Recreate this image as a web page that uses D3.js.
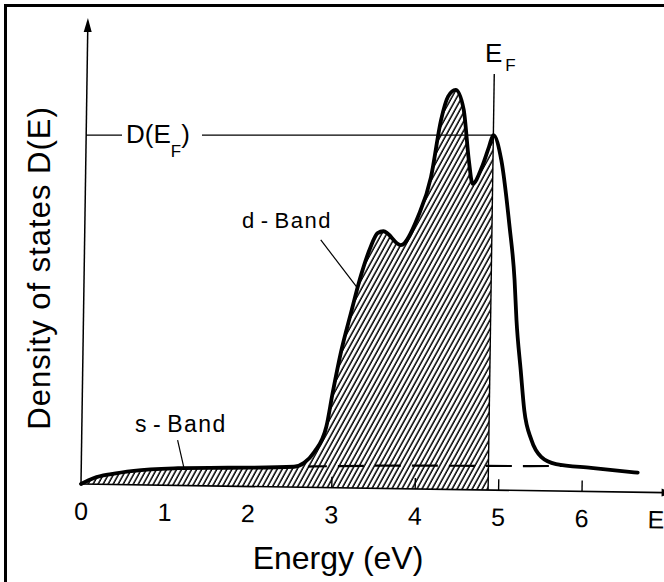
<!DOCTYPE html>
<html><head><meta charset="utf-8">
<script src="https://cdn.jsdelivr.net/npm/d3@7"></script>
<style>
body{margin:0;background:#fff}
svg{display:block;background:#fff}
text{font-family:"Liberation Sans",Arial,sans-serif;fill:#000}
</style></head>
<body><svg id="c" width="664" height="582"></svg>
<script>
// ---- data ----
const energyTotal = [0,0.155,0.36,0.63,1.16,1.76,2.55,2.67,2.79,2.93,3.0,3.09,3.205,3.32,3.43,3.51,3.58,3.79,3.99,4.14,4.25,4.33,4.42,4.52,4.59,4.64,4.75,4.83,4.88,4.98,5.09,5.16,5.19,5.25,5.30,5.39,5.51,5.69,6.11,6.67];
const dosTotal    = [0,0.155,0.26,0.35,0.43,0.46,0.51,0.61,0.885,1.52,2.37,3.37,4.375,5.33,6.04,6.38,6.43,6.09,6.8,7.8,9.23,9.82,9.99,9.5,8.25,7.65,8.08,8.58,8.875,8.25,6.6,5.26,4.26,3.0,2.0,1.27,0.85,0.675,0.59,0.49];
const energyS = [0,0.155,0.36,0.63,1.16,1.76,2.55,3.5,4.5,5.38,5.8];
const dosS    = [0,0.155,0.26,0.35,0.43,0.46,0.51,0.565,0.595,0.615,0.63];
const fermiEnergy = 4.88;
const fermiDos = 8.875;
const xTickValues = [0,1,2,3,4,5,6,6.89];
const xTickLabels = ["0","1","2","3","4","5","6","E"];
const xTickMarks = [3,4,5,6];
const dBandLeader = {e:[2.83,3.28], d:[6.19,5.0]};
const sBandLeader = {e:[1.15,1.23], d:[1.135,0.45]};

// ---- layout ----
const origin = {x:82, y:484}, tilt = 0.85;
const x = d3.scaleLinear().domain([0,7]).range([-1,583]);
const y = d3.scaleLinear().domain([0,12]).range([0,-480]);
const th = tilt*Math.PI/180;
function toScreen(e,d){const u=x(e), w=y(d);
  return [origin.x + u*Math.cos(th) - w*Math.sin(th), origin.y + u*Math.sin(th) + w*Math.cos(th)];}

const svg = d3.select("#c");
svg.append("rect").attr("width",664).attr("height",582).attr("fill","#fff");
const defs = svg.append("defs");
const pat = defs.append("pattern").attr("id","hatch").attr("patternUnits","userSpaceOnUse")
  .attr("width",4.4).attr("height",10).attr("patternTransform","rotate(28)");
pat.append("line").attr("x1",1).attr("x2",1).attr("y1",-1).attr("y2",11).attr("stroke","#000").attr("stroke-width",1.5);
defs.append("clipPath").attr("id","clipF").append("rect")
  .attr("x",x(0)).attr("y",-520).attr("width",x(fermiEnergy)-x(0)).attr("height",520);
defs.append("clipPath").attr("id","clipS").append("rect")
  .attr("x",x(2.72)).attr("y",-520).attr("width",x(5.8)-x(2.72)).attr("height",520);

// frame
svg.append("path").attr("d","M5.5,582V5.5H664").attr("fill","none").attr("stroke","#000").attr("stroke-width",3);

const g = svg.append("g").attr("transform",`translate(${origin.x},${origin.y}) rotate(${tilt})`);
const total = energyTotal.map((e,i)=>[e,dosTotal[i]]);
const sband = energyS.map((e,i)=>[e,dosS[i]]);

// hatched occupied area
g.append("path").datum(total).attr("clip-path","url(#clipF)")
  .attr("d",d3.area().x(d=>x(d[0])).y0(y(0)).y1(d=>y(d[1])).curve(d3.curveMonotoneX))
  .attr("fill","url(#hatch)");

// Fermi level line
g.append("line").attr("x1",x(fermiEnergy)).attr("x2",x(fermiEnergy)).attr("y1",y(0)).attr("y2",y(10.4))
  .attr("stroke","#000").attr("stroke-width",1.4);

// s-band dashed continuation
g.append("path").datum(sband).attr("clip-path","url(#clipS)")
  .attr("d",d3.line().x(d=>x(d[0])).y(d=>y(d[1])).curve(d3.curveMonotoneX))
  .attr("fill","none").attr("stroke","#000").attr("stroke-width",2.2).attr("stroke-dasharray","26,11");

// x axis
const ax = g.append("g").call(d3.axisBottom(x).tickValues(xTickValues).tickFormat((d,i)=>xTickLabels[i]).tickSize(-11).tickPadding(18));
ax.select(".domain").remove();
ax.selectAll(".tick").filter(d=>!xTickMarks.includes(d)).select("line").remove();
ax.selectAll(".tick line").attr("stroke-width",1.4);
ax.selectAll("text").attr("font-family",'"Liberation Sans",Arial,sans-serif').attr("font-size",25);
g.append("line").attr("x1",x(0)).attr("x2",x(7.2)).attr("y1",0).attr("y2",0).attr("stroke","#000").attr("stroke-width",1.6);
g.append("path").attr("d",`M${x(6.96)},-4L${x(7.1)},0L${x(6.96)},4Z`).attr("fill","#000");

// y axis with arrow
g.append("line").attr("x1",x(0)).attr("x2",x(0)).attr("y1",0).attr("y2",y(11.3)).attr("stroke","#000").attr("stroke-width",1.5);
g.append("path").attr("d",`M${x(0)-4},${y(11.3)}L${x(0)},${y(11.65)}L${x(0)+4},${y(11.3)}Z`).attr("fill","#000");

// total DOS curve
g.append("path").datum(total)
  .attr("d",d3.line().x(d=>x(d[0])).y(d=>y(d[1])).curve(d3.curveMonotoneX))
  .attr("fill","none").attr("stroke","#000").attr("stroke-width",3.8).attr("stroke-linejoin","round").attr("stroke-linecap","round");

// leaders
[dBandLeader,sBandLeader].forEach(l=>{
  g.append("line").attr("x1",x(l.e[0])).attr("y1",y(l.d[0])).attr("x2",x(l.e[1])).attr("y2",y(l.d[1]))
   .attr("stroke","#000").attr("stroke-width",1.2);
});

// D(E_F) reference line (horizontal on the page)
const pk = toScreen(fermiEnergy,fermiDos);
const axX = origin.x + x(0) + (origin.y-pk[1])*Math.sin(th);
svg.append("line").attr("x1",axX).attr("x2",122).attr("y1",pk[1]).attr("y2",pk[1]).attr("stroke","#000").attr("stroke-width",1.3);
svg.append("line").attr("x1",202).attr("x2",pk[0]).attr("y1",pk[1]).attr("y2",pk[1]).attr("stroke","#000").attr("stroke-width",1.3);

// texts
const dl = svg.append("text").attr("x",126).attr("y",143).attr("font-size",26);
dl.append("tspan").text("D(E");
dl.append("tspan").attr("font-size",17).attr("dy",14).text("F");
dl.append("tspan").attr("dy",-14).text(")");

const ef = svg.append("text").attr("x",485).attr("y",62).attr("font-size",26);
ef.append("tspan").text("E");
ef.append("tspan").attr("font-size",17).attr("dx",3).attr("dy",9).text("F");

const db = svg.append("text").attr("x",242).attr("y",228).attr("font-size",22).attr("letter-spacing",1.5);
db.append("tspan").text("d");
db.append("tspan").attr("dx",5).text("-");
db.append("tspan").attr("dx",5).text("Band");

const sb = svg.append("text").attr("x",135).attr("y",432).attr("font-size",23).attr("letter-spacing",1.5);
sb.append("tspan").text("s");
sb.append("tspan").attr("dx",5).text("-");
sb.append("tspan").attr("dx",5).text("Band");

svg.append("text").attr("transform","translate(50,268) rotate(-90)").attr("text-anchor","middle")
  .attr("font-size",31).attr("letter-spacing",1).text("Density of states D(E)");
svg.append("text").attr("x",338).attr("y",569).attr("text-anchor","middle").attr("font-size",32).text("Energy (eV)");
</script></body></html>
